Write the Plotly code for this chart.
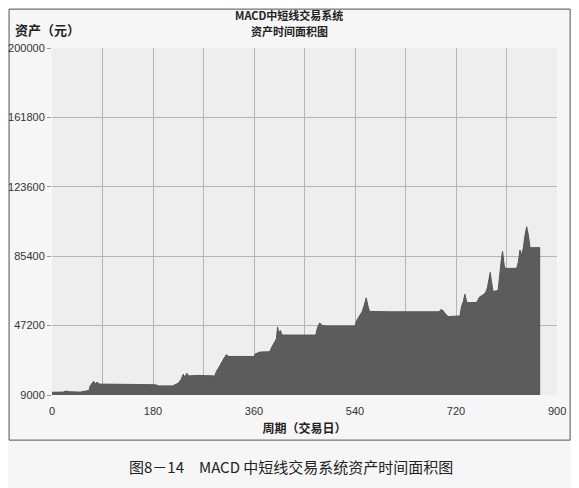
import plotly.graph_objects as go

# Asset curve (trading day, asset in yuan)
days = [0, 20, 25, 30, 50, 60, 66, 68, 72, 74, 77, 80, 85, 120, 150, 185, 190, 215, 225, 230,
        234, 237, 240, 244, 260, 290, 293, 298, 303, 307, 311, 315, 360, 362, 370, 388, 392, 396,
        400, 402, 404, 407, 410, 470, 473, 477, 482, 490, 540, 543, 548, 553, 557, 560, 563, 566,
        600, 690, 693, 697, 700, 706, 727, 730, 733, 736, 739, 745, 757, 762, 768, 773, 776, 779,
        781, 783, 786, 795, 798, 801, 803, 806, 808, 828, 831, 834, 837, 840, 843, 846, 849, 852, 870]
assets = [10500, 10600, 11200, 10800, 10600, 11000, 11500, 14000, 15500, 16500, 15200, 16000, 15000,
          15100, 14800, 14600, 14000, 14000, 15500, 17500, 20500, 18500, 21000, 19500, 19800, 19500,
          22000, 24500, 27500, 29500, 31200, 30200, 30200, 31500, 32600, 32800, 35500, 37500, 40000,
          46500, 43000, 44500, 42000, 42000, 46000, 48600, 47200, 47000, 47000, 50000, 52500, 55000,
          59000, 62500, 58000, 55000, 54800, 54800, 56000, 55500, 54000, 52200, 52500, 58000, 60500,
          64500, 60000, 59800, 60000, 63000, 64000, 65500, 68000, 74000, 76500, 72000, 66000, 66500,
          77000, 84000, 88000, 80000, 78700, 78700, 82000, 88800, 86000, 90000, 97000, 101600, 97000,
          90100, 90100]

x_ticks = [0, 90, 180, 270, 360, 450, 540, 630, 720, 810, 900]
x_labels = ["0", "", "180", "", "360", "", "540", "", "720", "", ""]
x_last_val = 900
x_last_label = "900"
y_ticks = [9000, 47200, 85400, 123600, 161800, 200000]
y_labels = ["9000", "47200", "85400", "123600", "161800", "200000"]

cjk = "Noto Sans CJK SC, Liberation Sans, Arial, sans-serif"
num = "Liberation Sans, Arial, sans-serif"

fig = go.Figure()
fig.add_trace(go.Scatter(
    x=days, y=assets, mode="lines", fill="tozeroy",
    line=dict(color="#555555", width=1), fillcolor="#5c5c5c",
    hoverinfo="x+y", showlegend=False,
))

fig.update_layout(
    width=579, height=488,
    margin=dict(l=44, r=30, t=40, b=101),
    paper_bgcolor="#f6f6f6", plot_bgcolor="#eeeeee",
    xaxis=dict(range=[0, 900], tickvals=x_ticks, ticktext=x_labels, automargin=False,
               ticklabelstandoff=8,
               showgrid=True, gridcolor="#b5b5b5", gridwidth=1,
               zeroline=False, showline=False, ticks="",
               tickfont=dict(family=num, size=11, color="#333333"),
               title=dict(text="<b>周期（交易日）</b>", standoff=8,
                          font=dict(family=cjk, size=12, color="#222222"))),
    yaxis=dict(range=[9000, 200000], tickvals=y_ticks, ticktext=y_labels, automargin=False,
               showgrid=True, gridcolor="#b5b5b5", gridwidth=1,
               zeroline=False, showline=False, ticks="outside", ticklen=4,
               tickcolor="#999999",
               tickfont=dict(family=num, size=11, color="#333333")),
    shapes=[dict(type="rect", xref="paper", yref="paper",
                 x0=-0.085, x1=1.026, y0=-0.130, y1=1.112,
                 line=dict(color="#555555", width=1), fillcolor="rgba(0,0,0,0)", layer="below")],
    annotations=[
        dict(text=x_last_label, xref="x", yref="paper", x=x_last_val, y=-0.045,
             xanchor="center", yanchor="middle", showarrow=False,
             font=dict(family=num, size=11, color="#333333")),
        dict(text="<b>MACD中短线交易系统</b>", xref="paper", yref="paper", x=0.47, y=1.095,
             xanchor="center", yanchor="middle", showarrow=False,
             font=dict(family=cjk, size=11, color="#222222")),
        dict(text="<b>资产时间面积图</b>", xref="paper", yref="paper", x=0.47, y=1.049,
             xanchor="center", yanchor="middle", showarrow=False,
             font=dict(family=cjk, size=11, color="#222222")),
        dict(text="<b>资产（元）</b>", xref="paper", yref="paper", x=-0.008, y=1.052,
             xanchor="center", yanchor="middle", showarrow=False,
             font=dict(family=cjk, size=13, color="#222222")),
        dict(text="图8－14　MACD 中短线交易系统资产时间面积图", xref="paper", yref="paper",
             x=0.473, y=-0.205, xanchor="center", yanchor="middle", showarrow=False,
             font=dict(family=cjk, size=15, color="#222222")),
    ],
)

fig.write_html("out.html")
